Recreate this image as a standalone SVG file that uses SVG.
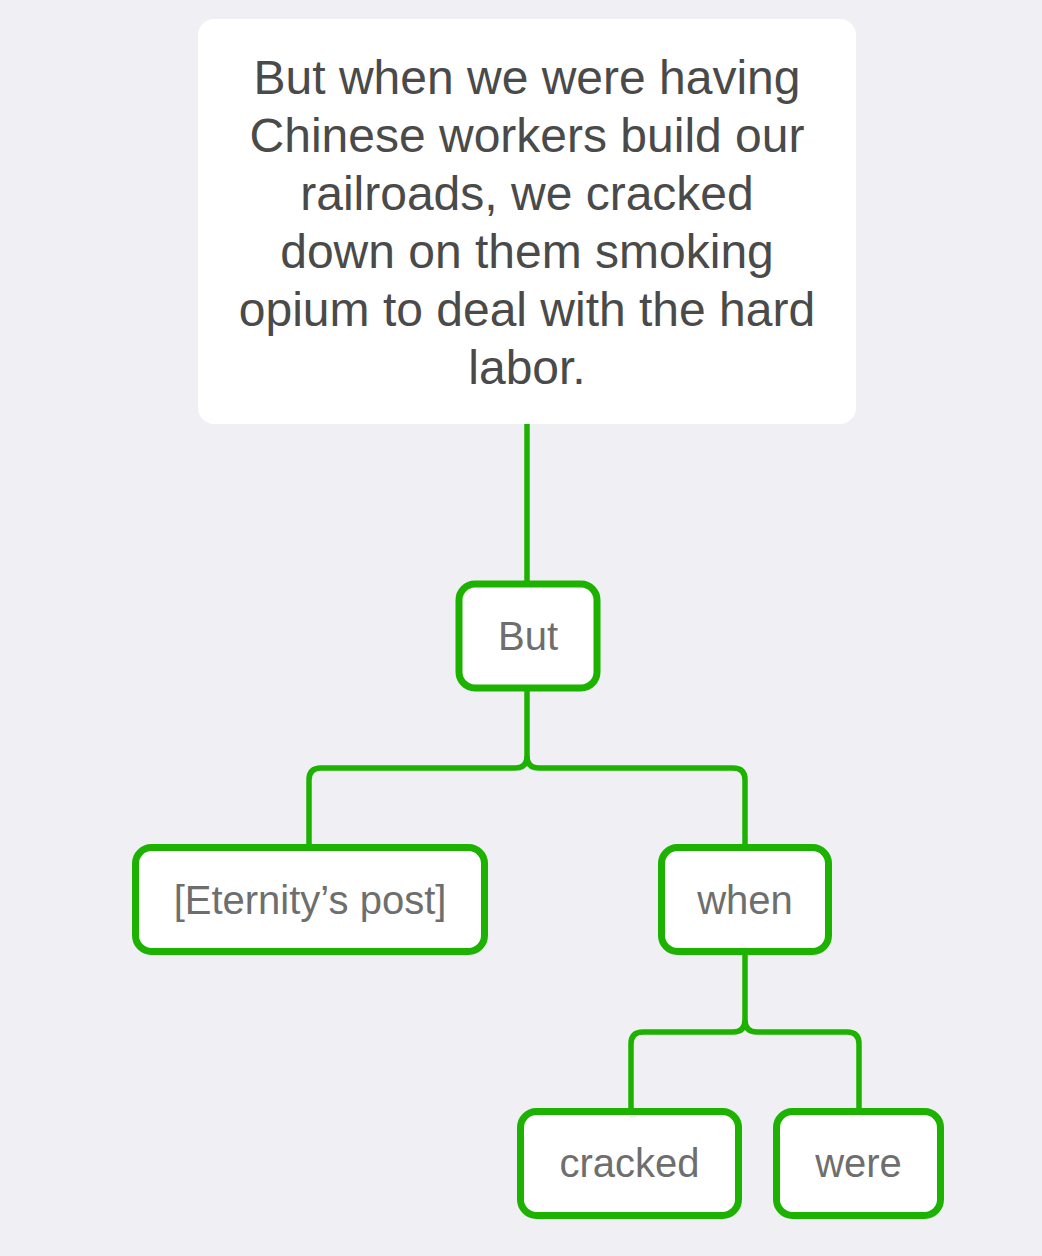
<svg xmlns="http://www.w3.org/2000/svg" width="1042" height="1256" viewBox="0 0 1042 1256">
  <style>
    .bg { fill: #efeff4; }
    .note { fill: #ffffff; }
    .note-text { font-family: "Liberation Sans", Arial, sans-serif; font-size: 48px; fill: #4a4a4a; text-anchor: middle; }
    .node rect { fill: #ffffff; stroke: #1db100; stroke-width: 7; }
    .node text { font-family: "Liberation Sans", Arial, sans-serif; font-size: 40px; fill: #6e6e6e; text-anchor: middle; }
    .edge { fill: none; stroke: #1db100; stroke-width: 5.5; stroke-linecap: butt; stroke-linejoin: round; }
  </style>
  <rect class="bg" x="0" y="0" width="1042" height="1256"/>

  <g id="connectors">
    <path class="edge" d="M527,424 V584"/>
    <path class="edge" d="M527,688 V756 Q527,768 515,768 H321 Q309,768 309,780 V848"/>
    <path class="edge" d="M527,756 Q527,768 539,768 H733 Q745,768 745,780 V848"/>
    <path class="edge" d="M745,951 V1020 Q745,1032 733,1032 H643 Q631,1032 631,1044 V1112"/>
    <path class="edge" d="M745,1020 Q745,1032 757,1032 H847 Q859,1032 859,1044 V1112"/>
  </g>

  <g id="note">
    <rect class="note" x="198" y="19" width="658" height="405" rx="16" ry="16"/>
    <text class="note-text" x="527" y="94">But when we were having</text>
    <text class="note-text" x="527" y="152">Chinese workers build our</text>
    <text class="note-text" x="527" y="210">railroads, we cracked</text>
    <text class="note-text" x="527" y="268">down on them smoking</text>
    <text class="note-text" x="527" y="326">opium to deal with the hard</text>
    <text class="note-text" x="527" y="384">labor.</text>
  </g>

  <g id="node-but" class="node">
    <rect x="459" y="584" width="138" height="104" rx="16" ry="16"/>
    <text x="528" y="650">But</text>
  </g>

  <g id="node-eternity" class="node">
    <rect x="135.5" y="847.5" width="349" height="104" rx="16" ry="16"/>
    <text x="310" y="914">[Eternity’s post]</text>
  </g>

  <g id="node-when" class="node">
    <rect x="661.5" y="847.5" width="167" height="104" rx="16" ry="16"/>
    <text x="745" y="914">when</text>
  </g>

  <g id="node-cracked" class="node">
    <rect x="520.5" y="1111.5" width="218" height="104" rx="16" ry="16"/>
    <text x="629.5" y="1177">cracked</text>
  </g>

  <g id="node-were" class="node">
    <rect x="776.5" y="1111.5" width="164" height="104" rx="16" ry="16"/>
    <text x="858.5" y="1177">were</text>
  </g>
</svg>
